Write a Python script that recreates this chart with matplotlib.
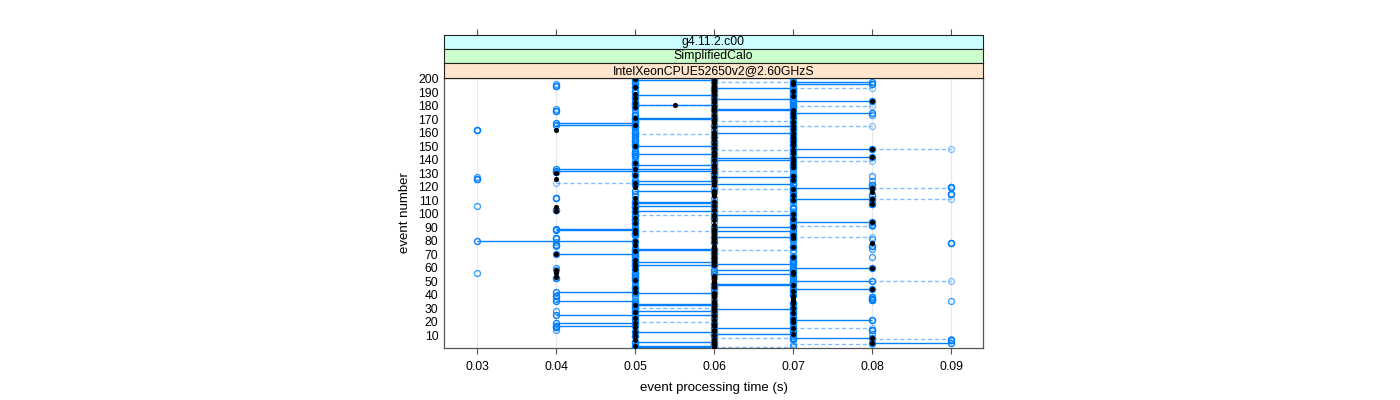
import numpy as np
import matplotlib
matplotlib.use("Agg")
import matplotlib.pyplot as plt

plt.rcParams['font.family'] = ['Liberation Sans', 'DejaVu Sans']

# ---- data (times in ms, one value per event 1..200) ----
events = list(range(1, 201))

median_ms = [
    60,50,60,80,60,50,60,80,50,60, 70,50,60,60,70,50,60,60,50,70,
    60,70,50,60,60,70,50,60,60,70, 60,50,60,70,60,70,70,60,70,60,
    60,50,70,80,50,60,70,60,60,60, 50,60,40,60,70,40,70,40,50,80,
    50,60,50,60,60,50,60,70,60,40, 60,50,60,60,70,60,50,80,60,50,
    60,70,60,70,60,50,60,50,60,70, 70,60,50,80,60,70,50,60,60,70,
    50,40,60,50,40,60,80,50,60,70, 80,50,60,70,60,80,60,70,80,50,
    60,60,50,60,70,40,60,70,50,40, 60,60,50,60,70,60,70,50,70,60,
    70,80,60,60,70,60,70,80,60,50, 70,60,70,70,60,70,60,70,60,70,
    60,40,70,60,70,50,60,70,60,60, 50,70,60,70,70,60,70,60,50,60,
    55,50,60,80,60,50,70,60,50,60, 70,60,60,50,60,70,60,70,60,50]

solid_lo_ms = [
    50,50,60,80,50,90,70,70,50,60, 60,50,70,80,60,40,40,60,40,70,
    70,50,70,50,40,70,50,50,60,70, 50,50,50,70,40,80,80,80,40,70,
    50,40,70,70,50,60,60,60,70,70, 50,40,50,70,60,50,70,60,50,70,
    50,50,60,50,70,50,60,70,50,40, 60,50,50,50,70,80,40,90,60,30,
    70,40,60,50,70,50,60,40,40,60, 70,80,50,70,50,70,60,50,60,70,
    50,50,40,70,50,50,80,50,50,70, 70,40,70,80,90,70,50,70,70,90,
    80,50,50,50,70,30,60,70,50,60, 40,40,40,60,70,50,70,50,60,60,
    60,70,50,50,70,50,70,70,60,50, 70,50,60,70,50,70,60,50,70,60,
    50,30,70,50,60,40,40,70,50,50, 50,70,50,70,70,40,60,60,50,70,
    50,50,70,70,60,50,70,50,70,50, 70,60,60,50,40,70,50,70,50,60]

solid_hi_ms = [
    60,60,60,90,60,90,70,80,50,60, 70,60,70,80,70,40,50,60,50,70,
    80,50,70,50,60,70,50,60,70,70, 50,60,60,70,50,80,80,80,40,70,
    60,50,70,80,50,60,70,70,70,80, 50,40,50,70,70,50,70,70,50,80,
    50,60,70,60,70,50,60,70,50,50, 60,50,60,60,70,80,40,90,60,50,
    70,40,70,50,70,50,70,50,50,70, 70,80,50,80,50,70,60,50,70,70,
    50,60,40,70,50,60,80,60,60,70, 80,40,70,80,90,70,60,70,80,90,
    80,70,50,60,70,30,70,70,50,60, 40,60,60,60,70,60,70,50,60,70,
    70,80,50,60,70,50,70,80,60,60, 70,50,60,70,50,70,60,50,70,70,
    50,30,70,50,70,50,50,70,50,60, 60,70,50,70,80,40,70,70,50,70,
    60,50,70,80,70,50,70,60,70,50, 70,60,70,50,40,80,50,80,60,60]

dashed_lo_ms = [
    60,70,70,60,50,60,80,60,70,60, 80,60,50,40,70,60,70,50,70,50,
    80,60,60,70,50,60,70,40,50,50, 70,60,70,50,90,60,40,50,60,50,
    70,60,50,60,70,50,50,70,50,80, 70,60,70,50,50,30,60,40,70,40,
    70,60,50,70,50,70,50,80,70,60, 50,70,60,80,50,40,70,50,40,70,
    80,60,70,70,50,60,50,70,60,50, 70,50,70,60,70,50,70,60,50,50,
    70,60,50,60,70,30,50,70,80,50, 80,60,50,70,50,60,70,60,80,60,
    50,70,40,80,50,60,30,80,60,70, 50,60,70,50,60,70,50,60,70,50,
    70,60,70,50,60,70,60,80,50,70, 60,70,50,60,70,50,70,60,50,50,
    70,60,50,70,70,60,70,50,60,50, 70,60,80,60,50,70,50,40,70,70,
    50,70,60,50,70,60,50,70,60,70, 50,70,70,60,70,40,60,60,70,50]

dashed_hi_ms = [
    70,70,80,60,50,60,90,70,70,60, 80,60,50,40,80,60,70,50,70,60,
    80,60,60,70,50,60,70,40,50,60, 70,60,70,50,90,60,40,50,60,50,
    70,60,50,60,70,50,50,70,50,90, 70,60,70,50,50,30,60,40,70,40,
    70,60,50,70,50,70,50,80,70,60, 50,70,70,80,50,40,70,50,40,70,
    80,60,80,70,50,60,60,70,60,50, 80,50,70,60,70,50,70,60,60,50,
    70,70,50,60,70,30,50,70,80,50, 90,60,50,70,50,60,70,70,90,60,
    50,70,50,80,50,60,30,80,60,70, 50,70,70,50,60,70,50,60,80,50,
    70,60,70,50,60,70,70,90,50,70, 60,70,50,60,70,50,70,60,60,50,
    70,60,50,70,80,60,70,50,70,50, 70,60,80,60,50,70,50,40,70,80,
    60,70,60,50,70,60,50,70,60,70, 50,70,80,60,70,40,60,70,70,50]

x_ticks = [0.03, 0.04, 0.05, 0.06, 0.07, 0.08, 0.09]
y_ticks = list(range(10, 201, 10))
strip_labels = ["g4.11.2.c00", "SimplifiedCalo", "IntelXeonCPUE52650v2@2.60GHzS"]
strip_colors = ["#CCFFFF", "#CCFFCC", "#FFE5CC"]

# ---- figure ----
W, H = 1400, 400
fig = plt.figure(figsize=(W / 100, H / 100), dpi=100)

px_l, px_r, px_t, px_b = 444, 983, 78, 348
ax = fig.add_axes([px_l / W, 1 - px_b / H, (px_r - px_l) / W, (px_b - px_t) / H])

ev = np.array(events)
to_s = lambda v: np.array(v, dtype=float) / 1000.0
med = to_s(median_ms)
slo, shi = to_s(solid_lo_ms), to_s(solid_hi_ms)
dlo, dhi = to_s(dashed_lo_ms), to_s(dashed_hi_ms)

blue = "#0080ff"
xlim = (0.02582, 0.09405)
ylim = (0.4, 200.7)

for t in x_ticks:
    ax.axvline(t, color="#e8e8e8", lw=0.8, zorder=0)

# dashed ranges (lighter)
ax.hlines(ev, dlo, dhi, colors=blue, alpha=0.5, lw=1.0,
          linestyles=(0, (3, 2)), zorder=1)
ax.plot(np.concatenate([dlo, dhi]), np.concatenate([ev, ev]), 'o',
        mfc='none', mec=blue, mew=0.9, ms=4.3, alpha=0.5, zorder=2)
# solid ranges
ax.hlines(ev, slo, shi, colors=blue, lw=1.0, zorder=3)
ax.plot(np.concatenate([slo, shi]), np.concatenate([ev, ev]), 'o',
        mfc='none', mec=blue, mew=1.0, ms=4.3, zorder=4)
# medians
ax.plot(med, ev, 'o', color='black', ms=3.7, mew=0, zorder=5)

ax.set_xlim(*xlim)
ax.set_ylim(*ylim)
ax.set_xticks(x_ticks)
ax.set_xticklabels([f"{t:.2f}" for t in x_ticks], fontsize=8.8)
ax.set_yticks(y_ticks)
ax.set_yticklabels([str(v) for v in y_ticks], fontsize=8.8)
ax.tick_params(axis='x', direction='out', length=4.5, width=0.8,
               color='#555555', pad=5)
ax.tick_params(axis='y', length=0, pad=4)
for s in ax.spines.values():
    s.set_color('#555555')
    s.set_linewidth(0.9)
ax.set_xlabel("event processing time (s)", fontsize=9.5, labelpad=6)
ax.set_ylabel("event number", fontsize=9.5, labelpad=5)

# strips
strip_edges = [35, 49, 63, 78]
for i, (lab, col) in enumerate(zip(strip_labels, strip_colors)):
    top, bot = strip_edges[i], strip_edges[i + 1]
    sax = fig.add_axes([px_l / W, 1 - bot / H, (px_r - px_l) / W, (bot - top) / H])
    sax.set_facecolor(col)
    sax.set_xlim(*xlim)
    sax.set_ylim(0, 1)
    sax.set_yticks([])
    if i == 0:
        sax.set_xticks(x_ticks)
        sax.tick_params(axis='x', top=True, bottom=False, labeltop=False,
                        labelbottom=False, direction='out', length=4.5,
                        width=0.8, color='#555555')
    else:
        sax.set_xticks([])
    for s in sax.spines.values():
        s.set_color('#222222')
        s.set_linewidth(0.8)
    sax.text(0.5, 0.48, lab, transform=sax.transAxes, ha='center',
             va='center', fontsize=8.8)

fig.savefig("out.png", dpi=100)
